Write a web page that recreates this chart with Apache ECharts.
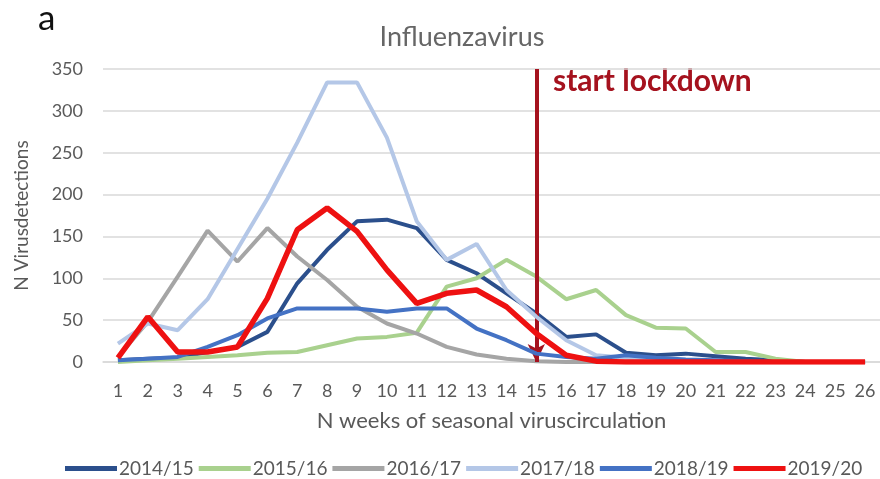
<!DOCTYPE html>
<html>
<head>
<meta charset="utf-8">
<script src="https://cdn.jsdelivr.net/npm/echarts@6/dist/echarts.min.js"></script>
<style>
	html, body { margin: 0; padding: 0; background: #fff; }
	#chart { width: 880px; height: 479px; }
</style>
</head>
<body>
<div id="chart"></div>
<script>
"use strict";

/*-----data-----*/
var weeks = ['1', '2', '3', '4', '5', '6', '7', '8', '9', '10', '11', '12', '13',
	'14', '15', '16', '17', '18', '19', '20', '21', '22', '23', '24', '25', '26'];
var seasons = ['2014/15', '2015/16', '2016/17', '2017/18', '2018/19', '2019/20'];
var s1415 = [2, 4, 5, 12, 18, 36, 94, 134, 168, 170, 160, 122, 106, 82, 58, 30, 33, 11, 8, 10, 7, 4, 2, 0, 0, 0];
var s1516 = [0, 2, 4, 6, 8, 11, 12, 20, 28, 30, 35, 90, 100, 122, 102, 75, 86, 56, 41, 40, 12, 12, 4, 0, 0, 0];
var s1617 = [6, 48, 102, 157, 120, 160, 126, 98, 66, 46, 34, 18, 9, 4, 1, 0, 0, 0, 0, 0, 0, 0, 0, 0, 0, 0];
var s1718 = [22, 46, 38, 75, 135, 195, 262, 334, 334, 268, 168, 122, 141, 86, 54, 26, 8, 5, 2, 0, 0, 0, 0, 0, 0, 0];
var s1819 = [2, 4, 6, 18, 32, 52, 64, 64, 64, 60, 64, 64, 40, 26, 10, 6, 4, 8, 5, 3, 2, 1, 0, 0, 0, 0];
var s1920 = [5, 54, 12, 12, 18, 76, 158, 184, 156, 110, 70, 82, 86, 66, 34, 8, 1, 0, 0, 0, 0, 0, 0, 0, 0, 0];
var yTicks = [0, 50, 100, 150, 200, 250, 300, 350];
var lockdownWeek = '15';

var colors = ['#2b4f8c', '#a9d18e', '#a5a5a5', '#b4c7e7', '#4472c4', '#ee1111'];
var values = [s1415, s1516, s1617, s1718, s1819, s1920];
var font = 'Lato, "Open Sans", sans-serif';
var textColor = '#595959';

var series = seasons.map(function (name, i) {
	var s = {
		name: name,
		type: 'line',
		data: values[i],
		symbol: 'none',
		lineStyle: { width: i === 5 ? 5.5 : 4, color: colors[i] },
		itemStyle: { color: colors[i] },
		z: 2 + i
	};
	if (i === 5) {
		s.markLine = {
			silent: true,
			symbol: ['none', 'arrow'],
			symbolSize: [13, 18],
			lineStyle: { color: '#a5121e', width: 4, type: 'solid' },
			label: { show: false },
			emphasis: { disabled: true },
			data: [[
				{ coord: [lockdownWeek, yTicks[yTicks.length - 1]] },
				{ coord: [lockdownWeek, 0] }
			]]
		};
	}
	return s;
});

var chart = echarts.init(document.getElementById('chart'));
var option = {
	animation: false,
	backgroundColor: '#fff',
	color: colors,
	title: {
		text: 'Influenzavirus',
		left: 457,
		top: 19,
		textAlign: 'center',
		textStyle: { fontFamily: font, fontSize: 27, fontWeight: 'normal', color: '#666' }
	},
	grid: {
		top: 69,
		right: 0,
		bottom: 117,
		left: 103
	},
	legend: {
		data: seasons,
		top: 454,
		left: 60,
		itemWidth: 52,
		itemHeight: 5,
		itemGap: 5,
		icon: 'rect',
		textStyle: { fontFamily: font, fontSize: 19, color: textColor, padding: [0, 0, 0, -3] }
	},
	xAxis: {
		type: 'category',
		data: weeks,
		boundaryGap: true,
		name: 'N weeks of seasonal viruscirculation',
		nameLocation: 'middle',
		nameGap: 48,
		nameTextStyle: { fontFamily: font, fontSize: 22, color: textColor },
		axisLine: { lineStyle: { color: '#d9d9d9', width: 1.5 } },
		axisTick: { show: false },
		axisLabel: { fontFamily: font, fontSize: 18, color: textColor, margin: 20, interval: 0 }
	},
	yAxis: {
		type: 'value',
		min: yTicks[0],
		max: yTicks[yTicks.length - 1],
		interval: 50,
		name: 'N Virusdetections',
		nameLocation: 'middle',
		nameGap: 72,
		nameTextStyle: { fontFamily: font, fontSize: 19, color: textColor },
		axisLine: { show: false },
		axisTick: { show: false },
		splitLine: { lineStyle: { color: '#d9d9d9', width: 1.5 } },
		axisLabel: { fontFamily: font, fontSize: 18, color: textColor, margin: 20 }
	},
	graphic: [{
		type: 'text',
		left: 38,
		top: 1,
		style: { text: 'a', fontFamily: font, fontSize: 35, fill: '#111' }
	}, {
		type: 'text',
		left: 553,
		top: 66,
		style: { text: 'start lockdown', fontFamily: font, fontSize: 30, fontWeight: 'bold', fill: '#a5121e' }
	}],
	series: series
};
chart.setOption(option);
window.addEventListener('resize', function () {
	chart.resize();
});
</script>
</body>
</html>
